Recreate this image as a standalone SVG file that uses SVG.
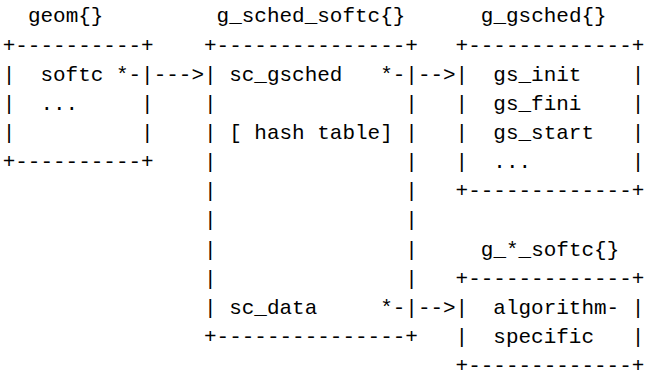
<svg xmlns="http://www.w3.org/2000/svg" width="646" height="372" viewBox="0 0 646 372">
<style>
text { font-family: "Liberation Mono", "DejaVu Sans Mono", monospace; font-size: 20.97px; fill: #000; white-space: pre; }
</style>
<rect width="646" height="372" fill="#fff"/>
<g id="geom" xml:space="preserve">
<text x="27.9" y="22.35">geom{}</text>
<text x="2.7" y="51.5">+----------+</text>
<text x="2.7" y="80.65">|  softc *-|</text>
<text x="2.7" y="109.8">|  ...     |</text>
<text x="2.7" y="138.95">|          |</text>
<text x="2.7" y="168.1">+----------+</text>
</g>
<g id="g_sched_softc" xml:space="preserve">
<text x="216.6" y="22.35">g_sched_softc{}</text>
<text x="204" y="51.5">+---------------+</text>
<text x="204" y="80.65">| sc_gsched   *-|</text>
<text x="204" y="109.8">|               |</text>
<text x="204" y="138.95">| [ hash table] |</text>
<text x="204" y="168.1">|               |</text>
<text x="204" y="197.25">|               |</text>
<text x="204" y="226.4">|               |</text>
<text x="204" y="255.55">|               |</text>
<text x="204" y="284.7">|               |</text>
<text x="204" y="313.85">| sc_data     *-|</text>
<text x="204" y="343">+---------------+</text>
</g>
<g id="g_gsched" xml:space="preserve">
<text x="480.8" y="22.35">g_gsched{}</text>
<text x="455.6" y="51.5">+-------------+</text>
<text x="455.6" y="80.65">|  gs_init    |</text>
<text x="455.6" y="109.8">|  gs_fini    |</text>
<text x="455.6" y="138.95">|  gs_start   |</text>
<text x="455.6" y="168.1">|  ...        |</text>
<text x="455.6" y="197.25">+-------------+</text>
</g>
<g id="g_alg_softc" xml:space="preserve">
<text x="480.8" y="255.55">g_*_softc{}</text>
<text x="455.6" y="284.7">+-------------+</text>
<text x="455.6" y="313.85">|  algorithm- |</text>
<text x="455.6" y="343">|  specific   |</text>
<text x="455.6" y="371.5">+-------------+</text>
</g>
<g id="connectors" xml:space="preserve">
<text x="153.7" y="80.65">---&gt;</text>
<text x="417.9" y="80.65">--&gt;</text>
<text x="417.9" y="313.85">--&gt;</text>
</g>
</svg>
